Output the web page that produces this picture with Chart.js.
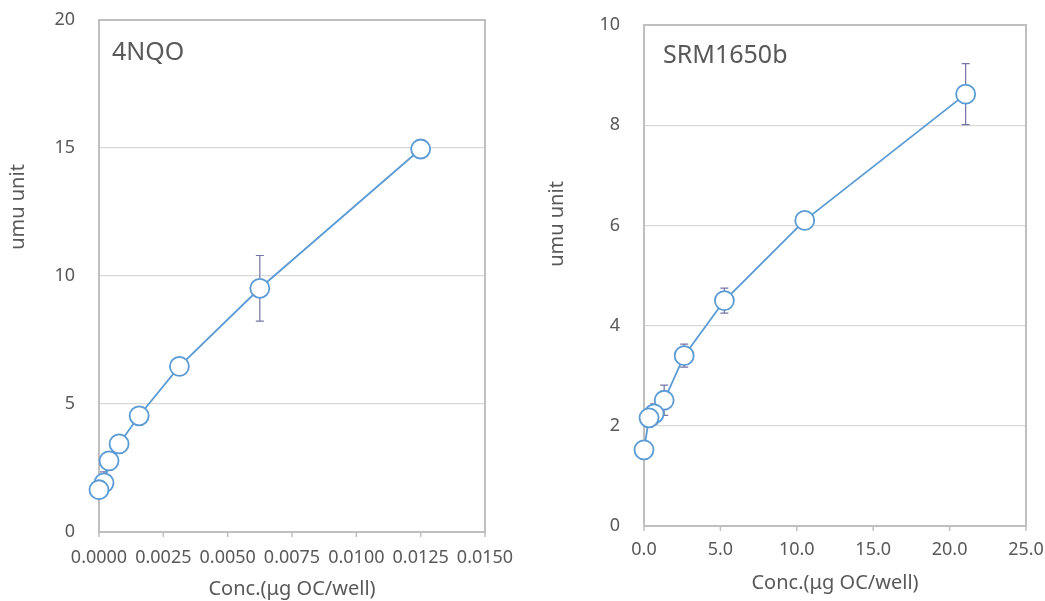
<!DOCTYPE html>
<html>
<head>
<meta charset="utf-8">
<script src="https://cdn.jsdelivr.net/npm/chart.js@4.4.1/dist/chart.umd.min.js"></script>
<style>
  html, body { margin: 0; padding: 0; background: #ffffff; }
  body { width: 1045px; height: 601px; position: relative; overflow: hidden; }
  canvas { position: absolute; top: 0; }
  #c1 { left: 0; }
  #c2 { left: 520px; }
</style>
</head>
<body>
<canvas id="c1" width="520" height="601"></canvas>
<canvas id="c2" width="525" height="601"></canvas>
<script>
// ---- Data: 4NQO ----
const nqoConc = [0, 0.000195, 0.00039, 0.00078, 0.00156, 0.003125, 0.00625, 0.0125];
const nqoUmu  = [1.65, 1.92, 2.78, 3.44, 4.54, 6.47, 9.52, 14.96];
const nqoErr  = [0.05, 0.43, 0.10, 0.10, 0.10, 0.10, 1.28, 0.15];
const nqoXTicks = { min: 0, max: 0.015, step: 0.0025, decimals: 4 };
const nqoYTicks = { min: 0, max: 20, step: 5 };

// ---- Data: SRM1650b ----
const srmConc = [0, 0.33, 0.66, 1.32, 2.63, 5.26, 10.52, 21.05];
const srmUmu  = [1.52, 2.16, 2.24, 2.51, 3.40, 4.50, 6.10, 8.62];
const srmErr  = [0.05, 0.10, 0.20, 0.30, 0.23, 0.25, 0.05, 0.61];
const srmXTicks = { min: 0, max: 25, step: 5, decimals: 1 };
const srmYTicks = { min: 0, max: 10, step: 2 };

const titles = ['4NQO', 'SRM1650b'];
const xTitle = 'Conc.(μg OC/well)';
const yTitle = 'umu unit';

const FONT = '"Noto Sans", "Open Sans", sans-serif';
const TXT = '#595959';
const BLUE = '#5B9BD5';
const ERRC = '#7474a6';
const AXIS = '#bfbfbf';

// points listed last-to-first so the earlier markers sit on top (as in the original)
function toPoints(xs, ys) { return xs.map((x, i) => ({ x: x, y: ys[i], e: i })).reverse(); }

const decoPlugin = {
  id: 'deco',
  beforeDatasetsDraw(chart, args, opts) {
    const ctx = chart.ctx;
    const a = chart.chartArea;
    const xs = chart.scales.x, ys = chart.scales.y;
    ctx.save();
    ctx.strokeStyle = AXIS;
    ctx.lineWidth = 1.5;
    xs.ticks.forEach(t => {
      const px = xs.getPixelForValue(t.value);
      ctx.beginPath();
      ctx.moveTo(px, a.bottom);
      ctx.lineTo(px, a.bottom + 5);
      ctx.stroke();
    });
    ctx.lineWidth = 2;
    ctx.strokeRect(a.left, a.top, a.right - a.left, a.bottom - a.top);
    ctx.strokeStyle = ERRC;
    ctx.lineWidth = 1.2;
    const ds = chart.data.datasets[0];
    const errs = opts.errors;
    ds.data.forEach(p => {
      const err = errs[p.e];
      const px = xs.getPixelForValue(p.x);
      const y1 = ys.getPixelForValue(p.y + err);
      const y2 = ys.getPixelForValue(p.y - err);
      ctx.beginPath();
      ctx.moveTo(px, y1); ctx.lineTo(px, y2);
      ctx.moveTo(px - 4, y1); ctx.lineTo(px + 4, y1);
      ctx.moveTo(px - 4, y2); ctx.lineTo(px + 4, y2);
      ctx.stroke();
    });
    ctx.restore();
  },
  afterDraw(chart, args, opts) {
    const ctx = chart.ctx;
    ctx.save();
    ctx.fillStyle = TXT;
    ctx.font = '25px ' + FONT;
    ctx.textAlign = 'left';
    ctx.textBaseline = 'alphabetic';
    ctx.fillText(opts.title, opts.titleX, opts.titleY);
    ctx.font = '20px ' + FONT;
    ctx.translate(opts.yTitleX, opts.yTitleY);
    ctx.rotate(-Math.PI / 2);
    ctx.textAlign = 'center';
    ctx.textBaseline = 'middle';
    ctx.fillText(yTitle, 0, 0);
    ctx.restore();
  }
};

function makeChart(id, xsData, ysData, errs, xt, yt, cfg) {
  return new Chart(document.getElementById(id), {
    type: 'scatter',
    data: {
      datasets: [{
        data: toPoints(xsData, ysData),
        showLine: true,
        clip: false,
        borderColor: BLUE,
        borderWidth: 1.8,
        pointRadius: 9.5,
        pointHoverRadius: 9.5,
        pointBackgroundColor: '#ffffff',
        pointBorderColor: BLUE,
        pointBorderWidth: 1.8,
        fill: false,
        tension: 0
      }]
    },
    options: {
      responsive: false,
      animation: false,
      events: [],
      layout: { padding: cfg.padding },
      plugins: {
        legend: { display: false },
        tooltip: { enabled: false },
        deco: {
          errors: errs,
          title: cfg.title, titleX: cfg.titleX, titleY: cfg.titleY,
          yTitleX: cfg.yTitleX, yTitleY: cfg.yTitleY
        }
      },
      scales: {
        x: {
          type: 'linear',
          min: xt.min, max: xt.max,
          afterFit(s) { s.height = cfg.xHeight; },
          border: { display: false },
          grid: { drawOnChartArea: false, drawTicks: true, tickLength: cfg.xTickGap, tickColor: 'rgba(0,0,0,0)' },
          ticks: {
            stepSize: xt.step, autoSkip: false, maxRotation: 0,
            padding: 0,
            color: TXT, font: { family: FONT, size: 18 },
            callback: v => Number(v).toFixed(xt.decimals)
          },
          title: {
            display: true, text: xTitle, color: TXT,
            font: { family: FONT, size: 20 },
            padding: { top: 0, bottom: cfg.xTitlePad }
          }
        },
        y: {
          type: 'linear',
          min: yt.min, max: yt.max,
          afterFit(s) { s.width = cfg.yWidth; },
          border: { display: false },
          grid: { color: '#d9d9d9', lineWidth: 1.2, drawTicks: true, tickLength: 24, tickColor: 'rgba(0,0,0,0)' },
          ticks: {
            stepSize: yt.step, padding: 0,
            color: TXT, font: { family: FONT, size: 18 }
          }
        }
      }
    },
    plugins: [decoPlugin]
  });
}

makeChart('c1', nqoConc, nqoUmu, nqoErr, nqoXTicks, nqoYTicks, {
  padding: { left: 0, top: 20, right: 35, bottom: 0 },
  yWidth: 99, xHeight: 69, xTickGap: 15, xTitlePad: 0,
  title: titles[0], titleX: 112, titleY: 60,
  yTitleX: 18, yTitleY: 207
});

makeChart('c2', srmConc, srmUmu, srmErr, srmXTicks, srmYTicks, {
  padding: { left: 0, top: 25, right: 19, bottom: 0 },
  yWidth: 124, xHeight: 75, xTickGap: 13, xTitlePad: 6,
  title: titles[1], titleX: 143, titleY: 63,
  yTitleX: 37, yTitleY: 224
});
</script>
</body>
</html>
